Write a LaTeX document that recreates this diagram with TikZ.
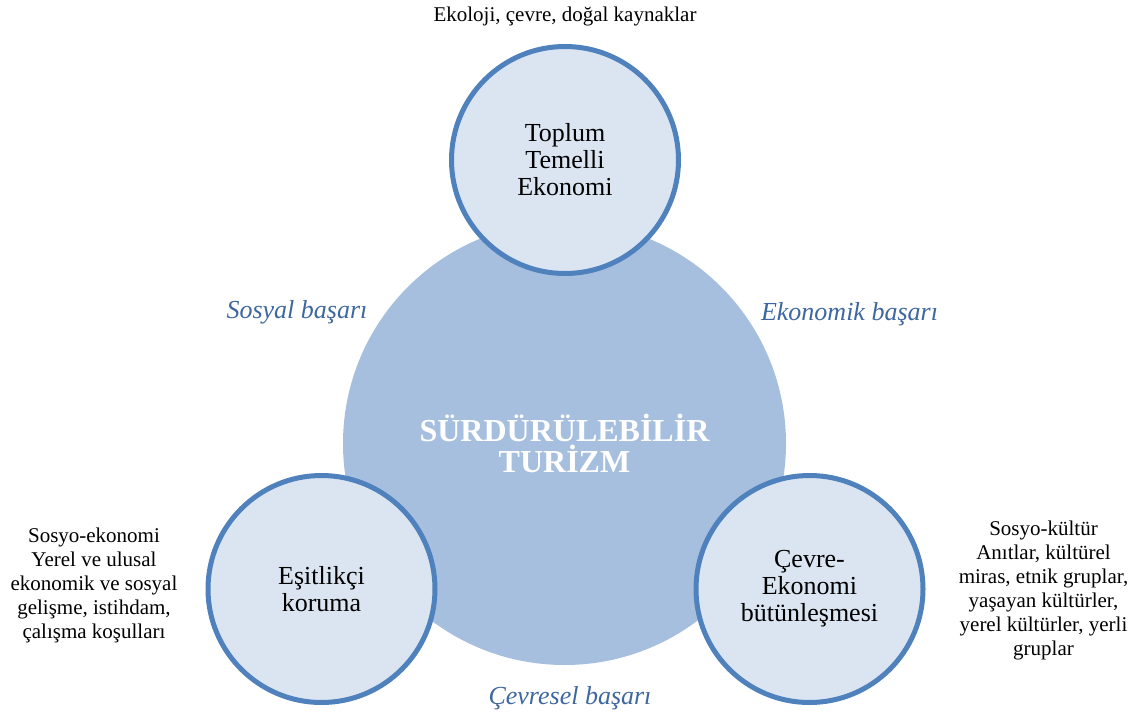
\documentclass[tikz,border=0pt]{standalone}
\usepackage{fontspec}
\setmainfont{Liberation Serif}
\definecolor{bigfill}{HTML}{A7BFDE}
\definecolor{smallfill}{HTML}{DBE5F2}
\definecolor{ring}{HTML}{4F81BD}
\definecolor{lbl}{HTML}{3D679E}
\begin{document}
\begin{tikzpicture}[x=1pt,y=-1pt,
  bigc/.style={circle,fill=bigfill,minimum size=443pt,inner sep=0pt,align=center,
    text=white,font=\fontsize{32}{31}\selectfont\bfseries},
  smallc/.style={circle,fill=smallfill,draw=ring,line width=5pt,minimum size=227pt,
    inner sep=0pt,align=center,font=\fontsize{26}{27}\selectfont},
  sidetext/.style={align=center,inner sep=0pt,font=\fontsize{21}{24}\selectfont},
  success/.style={inner sep=0pt,text=lbl,font=\fontsize{26}{28}\selectfont\itshape}]
\useasboundingbox (0,0) rectangle (1137,715);
\node[bigc] (big) at (564.5,443.5) {SÜRDÜRÜLEBİLİR\\TURİZM};
\node[smallc] (top) at (565,160) {Toplum\\Temelli\\Ekonomi};
\node[smallc] (left) at (321.5,589) {Eşitlikçi\\koruma};
\node[smallc] (right) at (809.5,589) {Çevre-\\Ekonomi\\bütünleşmesi};
\node[sidetext] (toptext) at (565,16) {Ekoloji, çevre, doğal kaynaklar};
\node[sidetext] (lefttext) at (94,585) {Sosyo-ekonomi\\Yerel ve ulusal\\ekonomik ve sosyal\\gelişme, istihdam,\\çalışma koşulları};
\node[sidetext] (righttext) at (1043.5,590) {Sosyo-kültür\\Anıtlar, kültürel\\miras, etnik gruplar,\\yaşayan kültürler,\\yerel kültürler, yerli\\gruplar};
\node[success] (sosyal) at (297,312) {Sosyal başarı};
\node[success] (ekonomik) at (849.5,314) {Ekonomik başarı};
\node[success] (cevresel) at (570,698) {Çevresel başarı};
\end{tikzpicture}
\end{document}
